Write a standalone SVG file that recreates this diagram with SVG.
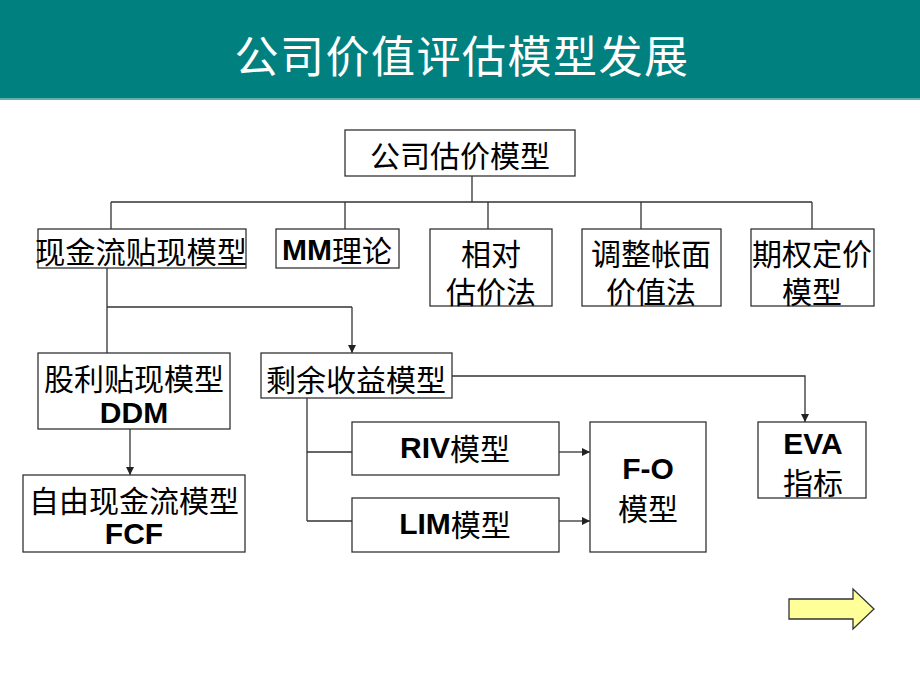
<svg xmlns="http://www.w3.org/2000/svg" width="920" height="690" viewBox="0 0 920 690">
<style>
.box{fill:#fff;stroke:#333;stroke-width:1.3}
.cn{font-family:"Noto Sans CJK SC","Noto Sans",sans-serif;font-size:30px;fill:#000;text-anchor:middle;dominant-baseline:central}
.en{font-family:"Liberation Sans",Arial,sans-serif;font-weight:bold}
.ln{fill:none;stroke:#333;stroke-width:1.3}
</style>
<defs>
<marker id="ah" viewBox="0 0 10 10" refX="10" refY="5" markerWidth="8" markerHeight="8" markerUnits="userSpaceOnUse" orient="auto">
<path d="M0,0 L10,5 L0,10 Z" fill="#222"/>
</marker>
</defs>
<rect x="0" y="0" width="920" height="98" fill="#018080"/>
<rect x="0" y="98" width="920" height="2" fill="#5fb0ad"/>
<text x="462" y="54" font-family="'Noto Sans CJK SC',sans-serif" font-size="44" fill="#fff" text-anchor="middle" dominant-baseline="central" letter-spacing="1.5">公司价值评估模型发展</text>

<g id="connectors">
<path class="ln" d="M472,176 V202 M111,202 H812 M111,202 V229 M345,202 V229 M488,202 V229 M641,202 V229 M812,202 V229"/>
<path class="ln" d="M107,268 V353 M107,307 H352"/>
<path class="ln" d="M352,307 V353" marker-end="url(#ah)"/>
<path class="ln" d="M130,429 V475" marker-end="url(#ah)"/>
<path class="ln" d="M307,398 V521 M307,452 H352 M307,521 H352"/>
<path class="ln" d="M559,452 H590" marker-end="url(#ah)"/>
<path class="ln" d="M559,521 H590" marker-end="url(#ah)"/>
<path class="ln" d="M452,376 H805 V422" marker-end="url(#ah)"/>
</g>

<g id="n-top"><rect class="box" x="345" y="130" width="230" height="46"/><text class="cn" x="460" y="154">公司估价模型</text></g>
<g id="n-dcf"><rect class="box" x="38" y="229" width="208" height="39"/><text class="cn" x="141" y="250" textLength="212" lengthAdjust="spacingAndGlyphs">现金流贴现模型</text></g>
<g id="n-mm"><rect class="box" x="276" y="229" width="123" height="39"/><text class="cn" x="337" y="249"><tspan class="en">MM</tspan>理论</text></g>
<g id="n-rel"><rect class="box" x="430" y="229" width="122" height="77"/><text class="cn" x="491" y="252">相对</text><text class="cn" x="491" y="290">估价法</text></g>
<g id="n-book"><rect class="box" x="582" y="229" width="139" height="77"/><text class="cn" x="651" y="252">调整帐面</text><text class="cn" x="651" y="290">价值法</text></g>
<g id="n-opt"><rect class="box" x="751" y="229" width="123" height="77"/><text class="cn" x="812" y="252">期权定价</text><text class="cn" x="812" y="290">模型</text></g>
<g id="n-ddm"><rect class="box" x="38" y="353" width="192" height="76"/><text class="cn" x="134" y="377">股利贴现模型</text><text class="cn en" x="134" y="412">DDM</text></g>
<g id="n-ri"><rect class="box" x="261" y="353" width="191" height="45"/><text class="cn" x="356" y="378">剩余收益模型</text></g>
<g id="n-fcf"><rect class="box" x="23" y="475" width="222" height="77"/><text class="cn" x="134" y="499">自由现金流模型</text><text class="cn en" x="134" y="533">FCF</text></g>
<g id="n-riv"><rect class="box" x="352" y="422" width="207" height="53"/><text class="cn" x="455" y="447"><tspan class="en">RIV</tspan>模型</text></g>
<g id="n-lim"><rect class="box" x="352" y="498" width="207" height="54"/><text class="cn" x="455" y="523"><tspan class="en">LIM</tspan>模型</text></g>
<g id="n-fo"><rect class="box" x="590" y="422" width="116" height="130"/><text class="cn en" x="648" y="468">F-O</text><text class="cn" x="648" y="507">模型</text></g>
<g id="n-eva"><rect class="box" x="758" y="422" width="108" height="76"/><text class="cn en" x="813" y="443">EVA</text><text class="cn" x="813" y="481">指标</text></g>

<g id="next-arrow"><path d="M789,599 H853 V589 L874,609 L853,629 V619 H789 Z" fill="#ffff99" stroke="#333" stroke-width="1.3"/></g>
</svg>
